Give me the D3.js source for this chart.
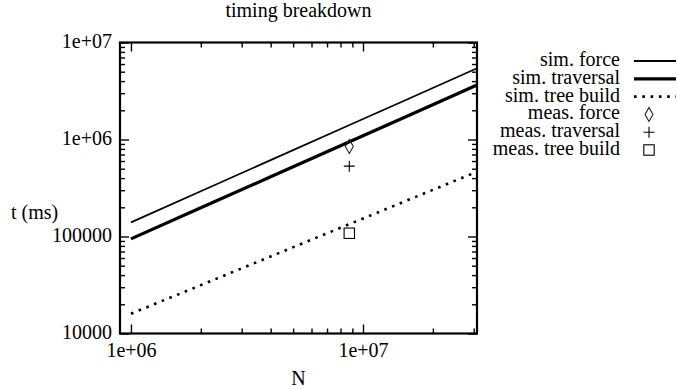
<!DOCTYPE html>
<html>
<head>
<meta charset="utf-8">
<script src="https://cdn.jsdelivr.net/npm/d3@7"></script>
<style>
  body { margin: 0; background: #fff; }
  svg { display: block; }
  text { font-family: "Liberation Serif", "Times New Roman", serif; fill: #000; }
</style>
</head>
<body>
<div id="chart"></div>
<script>
// simulated curves, sampled along N
var simN = [1e6, 2e6, 4e6, 8e6, 1.6e7, 3.1e7];
var simForce = [1.40e5, 2.93e5, 6.13e5, 1.282e6, 2.68e6, 5.42e6];
var simTraversal = [9.46e4, 1.98e5, 4.13e5, 8.63e5, 1.80e6, 3.64e6];
var simTreeBuild = [1.60e4, 3.15e4, 6.23e4, 1.23e5, 2.43e5, 4.65e5];

// measured points
var measN = [8.73e6];
var measForce = [8.47e5];
var measTraversal = [5.31e5];
var measTreeBuild = [1.08e5];

var xMajor = [1e6, 1e7];
var yMajor = [1e4, 1e5, 1e6, 1e7];

var legendLabels = ["sim. force", "sim. traversal", "sim. tree build",
                    "meas. force", "meas. traversal", "meas. tree build"];

var width = 677, height = 389;
var plotL = 120, plotR = 477, plotT = 42.5, plotB = 333.5;
var fontSize = "20px";

var svg = d3.select("#chart").append("svg")
    .attr("width", width)
    .attr("height", height);

var x = d3.scaleLog().domain([8.97e5, 3.1e7]).range([plotL, plotR]);
var y = d3.scaleLog().domain([1e4, 1e7]).range([plotB, plotT]);

function fmt(v) {
    if (v >= 1e6) return "1e+0" + Math.round(Math.log10(v));
    return String(v);
}

// minor ticks: the 2..9 multiples, kept off the frame
var xMinor = x.ticks().filter(function(v) {
    return xMajor.indexOf(v) < 0 && x(v) > plotL + 1 && x(v) < plotR - 1;
});
var yMinor = y.ticks().filter(function(v) {
    return yMajor.indexOf(v) < 0 && y(v) < plotB - 1 && y(v) > plotT + 1;
});

var majLen = 9, minLen = 5;

function tickGroup(axis, tx, ty) {
    var g = svg.append("g").attr("transform", "translate(" + tx + "," + ty + ")").call(axis);
    g.select(".domain").remove();
    g.selectAll("line").attr("stroke", "#000").attr("stroke-width", 1.4);
    return g;
}

// bottom
var gx = tickGroup(d3.axisBottom(x).tickValues(xMajor).tickSize(-majLen).tickFormat(fmt), 0, plotB);
gx.selectAll("text").attr("y", 23.5).attr("dy", 0).style("font-size", fontSize).style("font-family", "Liberation Serif");
tickGroup(d3.axisBottom(x).tickValues(xMinor).tickSize(-minLen).tickFormat(""), 0, plotB);
// top (mirror)
tickGroup(d3.axisTop(x).tickValues(xMajor).tickSize(-majLen).tickFormat(""), 0, plotT);
tickGroup(d3.axisTop(x).tickValues(xMinor).tickSize(-minLen).tickFormat(""), 0, plotT);
// left
var gy = tickGroup(d3.axisLeft(y).tickValues(yMajor).tickSize(-majLen).tickFormat(fmt), plotL, 0);
gy.selectAll("text").attr("x", -8).attr("dy", "0.25em").style("font-size", fontSize).style("font-family", "Liberation Serif");
tickGroup(d3.axisLeft(y).tickValues(yMinor).tickSize(-minLen).tickFormat(""), plotL, 0);
// right (mirror)
tickGroup(d3.axisRight(y).tickValues(yMajor).tickSize(-majLen).tickFormat(""), plotR, 0);
tickGroup(d3.axisRight(y).tickValues(yMinor).tickSize(-minLen).tickFormat(""), plotR, 0);

// frame
svg.append("rect")
    .attr("x", plotL).attr("y", plotT)
    .attr("width", plotR - plotL).attr("height", plotB - plotT)
    .attr("fill", "none").attr("stroke", "#000").attr("stroke-width", 2.2);

// curves
var styles = [
    { w: 1.8, dash: null },
    { w: 3.2, dash: null },
    { w: 2.6, dash: "2.6,5.7" }
];
var series = [simForce, simTraversal, simTreeBuild];

var line = d3.line()
    .x(function(d) { return x(d[0]); })
    .y(function(d) { return y(d[1]); });

series.forEach(function(vals, i) {
    svg.append("path")
        .datum(simN.map(function(n, j) { return [n, vals[j]]; }))
        .attr("d", line)
        .attr("fill", "none")
        .attr("stroke", "#000")
        .attr("stroke-width", styles[i].w)
        .attr("stroke-dasharray", styles[i].dash);
});

// point symbols
function diamond(g) {
    g.append("path").attr("d", "M0,-7L4,0L0,7L-4,0Z")
        .attr("fill", "none").attr("stroke", "#222").attr("stroke-width", 1.1);
}
function plus(g) {
    g.append("path").attr("d", "M-5.5,0H5.5M0,-5.5V5.5")
        .attr("fill", "none").attr("stroke", "#000").attr("stroke-width", 1.1);
}
function square(g) {
    g.append("rect").attr("x", -5.2).attr("y", -5.2).attr("width", 10.4).attr("height", 10.4)
        .attr("fill", "none").attr("stroke", "#000").attr("stroke-width", 1.1);
}
var symbols = [diamond, plus, square];
var meas = [measForce, measTraversal, measTreeBuild];

meas.forEach(function(vals, i) {
    svg.selectAll(null)
        .data(measN.map(function(n, j) { return [n, vals[j]]; }))
        .enter()
        .append("g")
        .attr("transform", function(d) { return "translate(" + x(d[0]) + "," + y(d[1]) + ")"; })
        .each(function() { symbols[i](d3.select(this)); });
});

// legend
var legend = svg.append("g");
legendLabels.forEach(function(lbl, i) {
    var cy = 61 + i * 17.8;
    legend.append("text")
        .attr("x", 620).attr("y", cy + 5)
        .attr("text-anchor", "end")
        .style("font-size", fontSize)
        .text(lbl);
    if (i < 3) {
        legend.append("line")
            .attr("x1", 634).attr("x2", 676)
            .attr("y1", cy).attr("y2", cy)
            .attr("stroke", "#000")
            .attr("stroke-width", styles[i].w)
            .attr("stroke-dasharray", styles[i].dash);
    } else {
        var g = legend.append("g").attr("transform", "translate(649," + cy + ")");
        symbols[i - 3](g);
    }
});

// titles
svg.append("text")
    .attr("x", (plotL + plotR) / 2).attr("y", 17)
    .attr("text-anchor", "middle")
    .style("font-size", fontSize)
    .text("timing breakdown");

svg.append("text")
    .attr("x", 11).attr("y", 219)
    .style("font-size", fontSize)
    .text("t (ms)");

svg.append("text")
    .attr("x", (plotL + plotR) / 2).attr("y", 385)
    .attr("text-anchor", "middle")
    .style("font-size", fontSize)
    .text("N");
</script>
</body>
</html>
